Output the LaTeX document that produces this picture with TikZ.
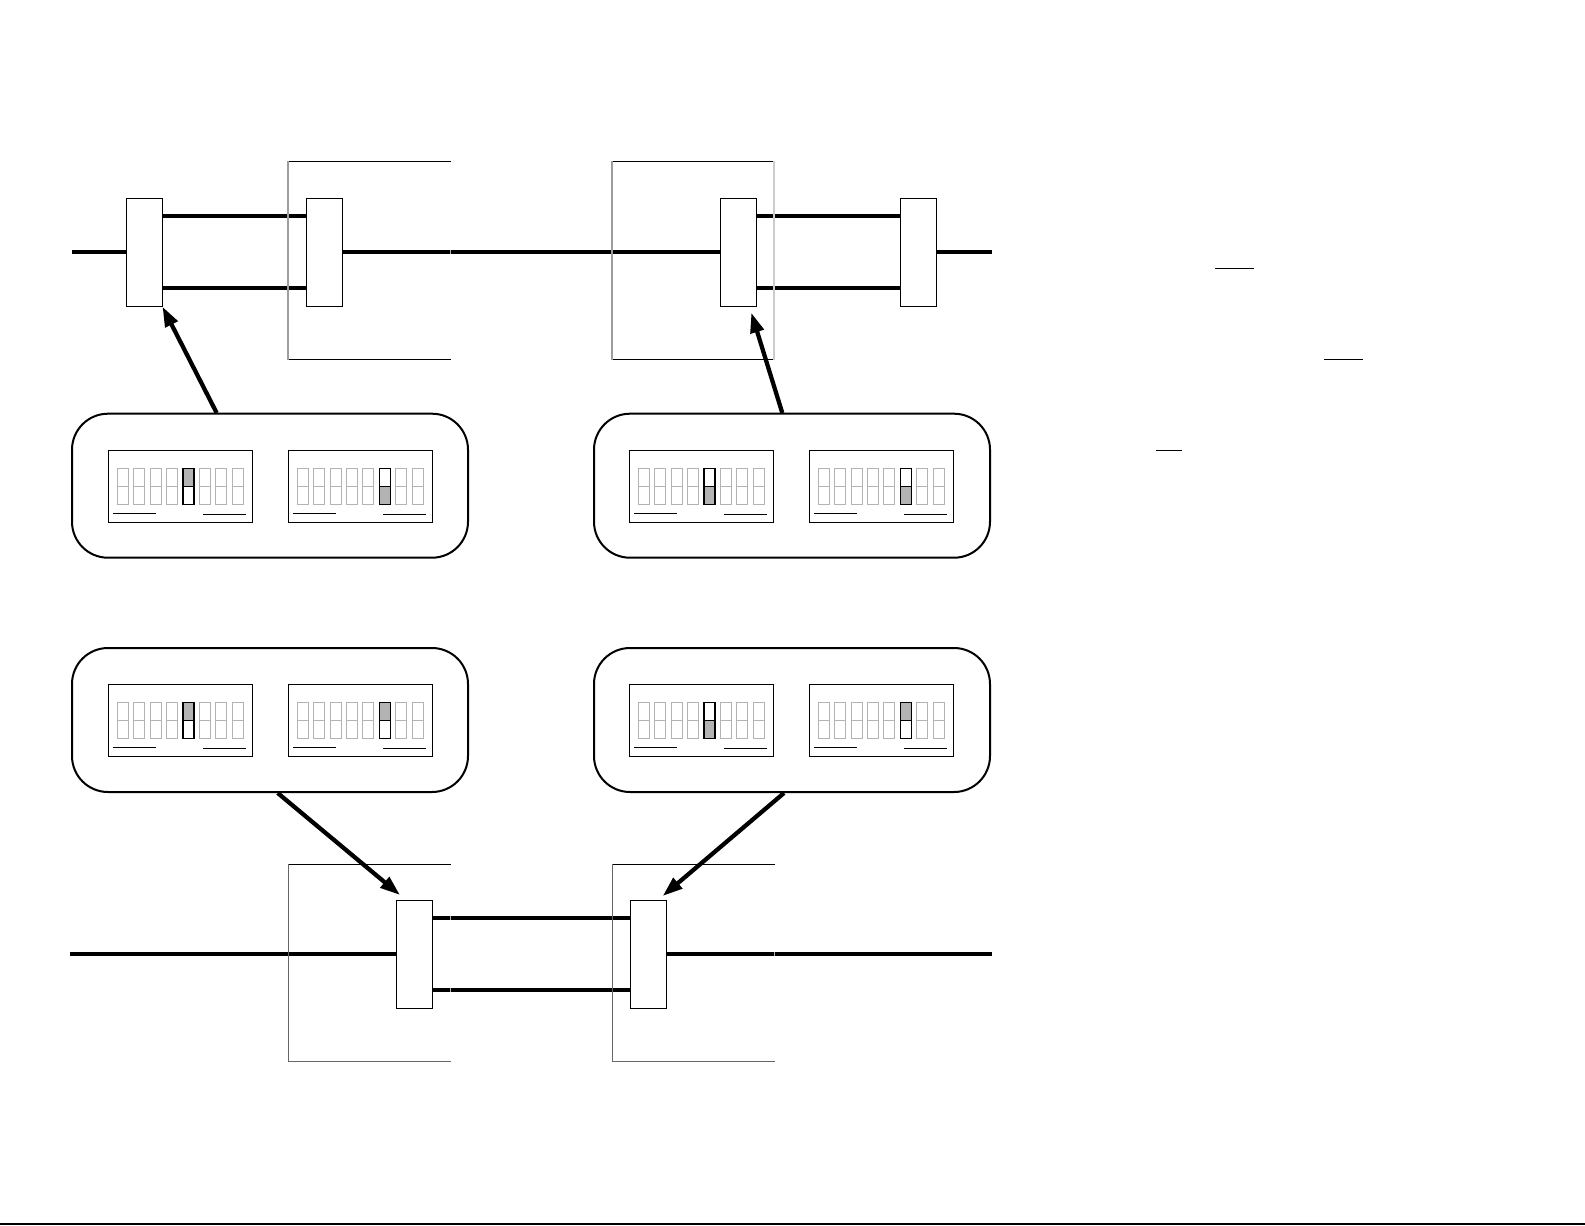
\documentclass[tikz,border=0pt]{standalone}
\usetikzlibrary{arrows.meta,calc}
\definecolor{swgray}{HTML}{B3B3B3}
\tikzset{
  px/.style={x=0.75pt,y=-0.75pt},
  unitspot/.style={minimum width=27pt,minimum height=81pt,inner sep=0pt,outer sep=0pt},
  unitbox/.style={unitspot,draw=black,fill=white,line width=0.8pt},
  wire/.style={line width=3pt,draw=black},
  cardbox/.style={draw=black,fill=white,line width=1.5pt,rounded corners=27pt,minimum width=297pt,minimum height=108pt,inner sep=0pt,outer sep=0pt},
  panelbox/.style={draw=black,fill=white,line width=0.85pt,minimum width=108pt,minimum height=54pt,inner sep=0pt,outer sep=0pt},
  pointer/.style={line width=3.2pt,draw=black,-{Triangle[length=15pt,width=10pt]},shorten >=0pt},
  thinrule/.style={line width=0.75pt,draw=black},
  switchoff/.style={draw=swgray,line width=0.85pt},
  switchon/.style={draw=black,line width=1pt},
  edgetick/.style={line width=0.75pt,draw=swgray}
}
% panel: name, centre x, centre y, index of the set switch, top or bottom half grey
\newcommand{\dippanel}[5]{%
  \node[panelbox] (#1) at (#2,#3) {};
  \begin{scope}[shift={(#2-72,#3-18)}]
    \foreach \i in {0,...,7}{
      \pgfmathsetmacro{\sx}{8.8+16.4*\i}
      \ifnum\i=#4\relax\else
        \draw[switchoff] (\sx,0) rectangle ++(11,36);
        \draw[switchoff] (\sx,18) -- ++(11,0);
      \fi
    }
    \pgfmathsetmacro{\sx}{8.8+16.4*#4}
    \ifnum#5=0
      \fill[swgray] (\sx,0) rectangle ++(11,18);
    \else
      \fill[swgray] (\sx,18) rectangle ++(11,18);
    \fi
    \draw[switchon] (\sx,0) rectangle ++(11,36);
    \draw[switchon] (\sx,18) -- ++(11,0);
    \draw[thinrule] (4.8,45) -- ++(42.8,0);
    \draw[thinrule] (94.8,46) -- ++(42.8,0);
  \end{scope}
}
\begin{document}
\begin{tikzpicture}[px]
\useasboundingbox (0,0) rectangle (1585,1225);
\fill[white] (0,0) rectangle (1585,1225);

% --- upper line ---
\coordinate (ul) at (72,252);
\coordinate (ur) at (992,252);
\coordinate (ua) at (0,216);
\coordinate (ub) at (0,288);
\node[unitspot] (a1) at (144.5,252.3) {};
\node[unitspot] (a2) at (324.5,252.3) {};
\node[unitspot] (a3) at (738.3,252.3) {};
\node[unitspot] (a4) at (918.3,252.3) {};
\draw[wire] (ul) -- (a1.west |- ul);
\draw[wire] (a2.east |- ul) -- (a3.west |- ul);
\draw[wire] (a4.east |- ur) -- (ur);
\draw[wire] (a1.east |- ua) -- (a2.west |- ua);
\draw[wire] (a1.east |- ub) -- (a2.west |- ub);
\draw[wire] (a3.east |- ua) -- (a4.west |- ua);
\draw[wire] (a3.east |- ub) -- (a4.west |- ub);
% upper brackets
\draw[thinrule] (288,161.3) -- (450.7,161.3);
\draw[thinrule] (288,359.3) -- (450.7,359.3);
\draw[line width=0.9pt,draw=black!38] (288,161) -- (288,359.7);
\draw[edgetick] (450.3,250) -- (450.3,254);
\draw[thinrule] (612,161.3) -- (774,161.3);
\draw[thinrule] (612,359.3) -- (774,359.3);
\draw[line width=0.9pt,draw=black!38] (612,161) -- (612,359.7);
\draw[line width=0.9pt,draw=black!20] (774,161) -- (774,359.7);
% boxes above the brackets
\node[unitbox] at (a1) {};
\node[unitbox] at (a2) {};
\node[unitbox] at (a3) {};
\node[unitbox] at (a4) {};

% --- lower line ---
\coordinate (ll) at (70,954);
\coordinate (lr) at (992,954);
\coordinate (la) at (0,918);
\coordinate (lb) at (0,990);
\node[unitspot] (b1) at (414.3,954.4) {};
\node[unitspot] (b2) at (648.5,954.4) {};
\draw[wire] (ll) -- (b1.west |- ll);
\draw[wire] (b2.east |- lr) -- (lr);
\draw[wire] (b1.east |- la) -- (b2.west |- la);
\draw[wire] (b1.east |- lb) -- (b2.west |- lb);
% lower brackets
\draw[thinrule] (288,864.3) -- (450.7,864.3);
\draw[line width=0.75pt,draw=black!60] (288,1061.7) -- (450.7,1061.7);
\draw[line width=0.75pt,draw=black!60] (288.3,864) -- (288.3,1062);
\draw[edgetick] (450.3,916) -- (450.3,920);
\draw[edgetick] (450.3,988) -- (450.3,992);
\draw[thinrule] (612.3,864.3) -- (774.7,864.3);
\draw[line width=0.75pt,draw=black!60] (612.3,1061.7) -- (774.7,1061.7);
\draw[line width=0.75pt,draw=black!60] (612.5,864) -- (612.5,1062);
\draw[edgetick] (774.3,952) -- (774.3,956);
\node[unitbox] at (b1) {};
\node[unitbox] at (b2) {};

% --- cards ---
\node[cardbox] (c1) at (270,485.7) {};
\node[cardbox] (c2) at (792,485.7) {};
\node[cardbox] (c3) at (270,720) {};
\node[cardbox] (c4) at (792,720) {};
\dippanel{p1}{180.5}{486.3}{4}{0}
\dippanel{p2}{360.5}{486.3}{5}{1}
\dippanel{p3}{701.5}{486.3}{4}{1}
\dippanel{p4}{881.5}{486.3}{5}{1}
\dippanel{p5}{180.5}{720.5}{4}{0}
\dippanel{p6}{360.5}{720.5}{5}{0}
\dippanel{p7}{701.5}{720.5}{4}{1}
\dippanel{p8}{881.5}{720.5}{5}{0}

% --- pointers ---
\coordinate (t1) at (216.7,413);
\coordinate (h1) at (162.5,306.7);
\coordinate (t2) at (782.3,413);
\coordinate (h2) at (751.3,312.7);
\coordinate (t3) at (277.7,793);
\coordinate (h3) at (400,895);
\coordinate (t4) at (784,793);
\coordinate (h4) at (662.7,896);
\draw[pointer] (t1) -- (h1);
\draw[pointer] (t2) -- (h2);
\draw[pointer] (t3) -- (h3);
\draw[pointer] (t4) -- (h4);

% --- rules on the right ---
\draw[line width=1pt] (1215,268.5) -- (1254,268.5);
\draw[line width=1pt] (1324,359.5) -- (1362.7,359.5);
\draw[line width=1pt] (1156,450.5) -- (1182,450.5);
\draw[line width=1.2pt] (0,1224) -- (1585,1224);
\end{tikzpicture}
\end{document}
